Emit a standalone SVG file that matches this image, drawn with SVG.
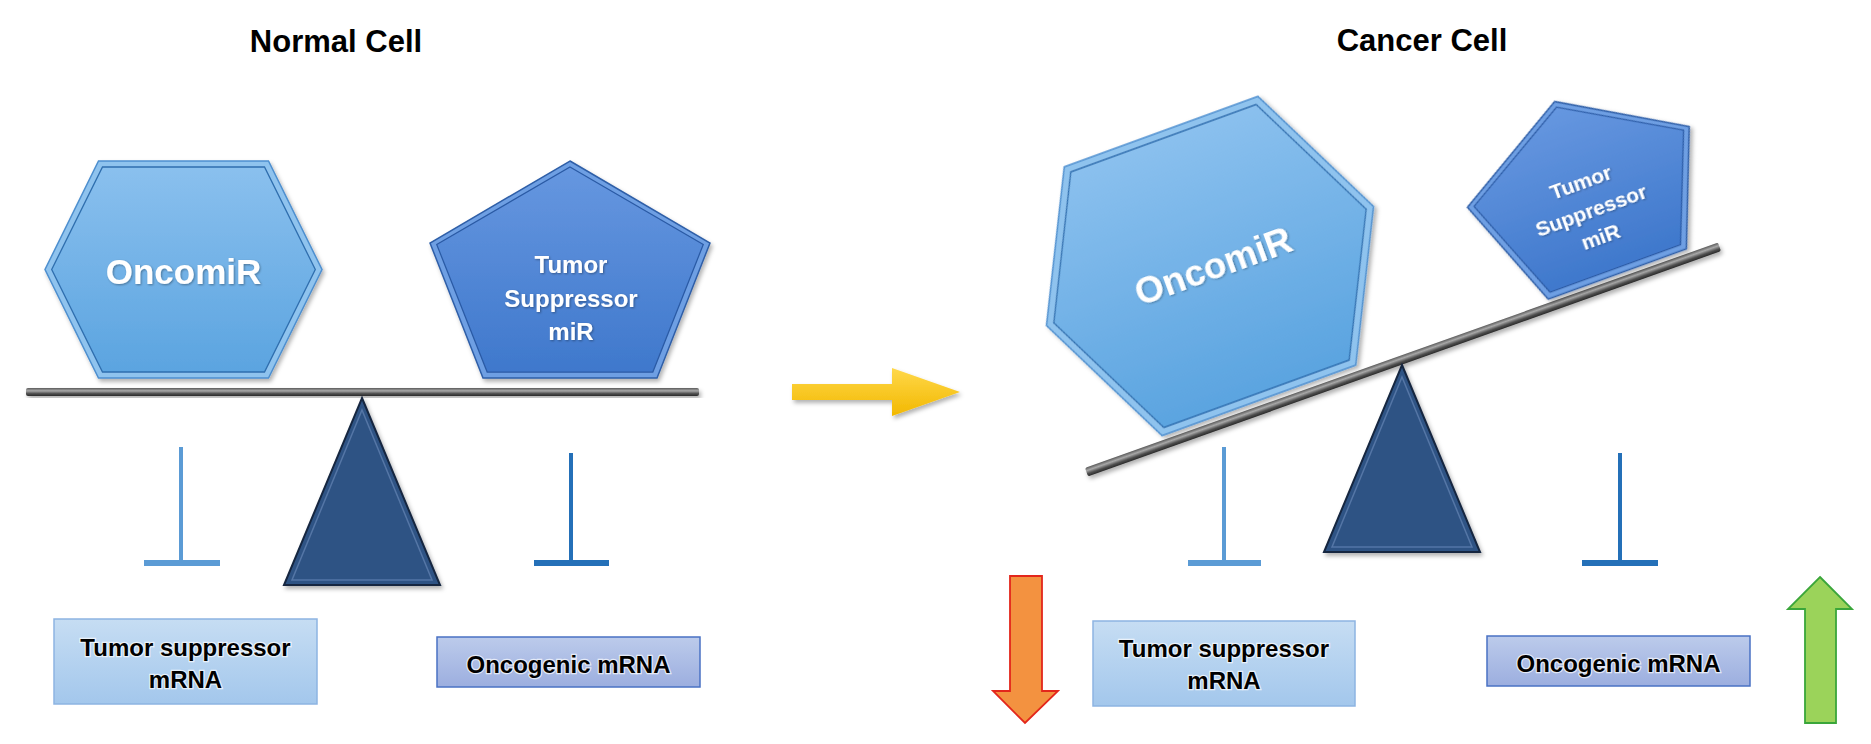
<svg xmlns="http://www.w3.org/2000/svg" width="1871" height="744" viewBox="0 0 1871 744">
<defs>
<style>
.title{font-family:"Liberation Sans",Arial,sans-serif;font-weight:bold;font-size:31px;fill:#000;text-anchor:middle}
.shape-text{font-family:"Liberation Sans",Arial,sans-serif;font-weight:bold;fill:#fff;text-anchor:middle}
.box-text{font-family:"Liberation Sans",Arial,sans-serif;font-weight:bold;font-size:24px;fill:#000;text-anchor:middle;stroke:#fff;stroke-width:2.5;stroke-opacity:0.7;paint-order:stroke}
.hex-rim{fill:#8fc3ee;stroke:#4d8fcf;stroke-width:1.5}
.hex-in{fill:url(#hexGrad);stroke:#2f6eae;stroke-width:1.3}
.pent-rim{fill:#6e9fe3;stroke:#2f5fa8;stroke-width:1.5}
.pent-in{fill:url(#pentGrad);stroke:#2a5aa5;stroke-width:1.3}
.tri{fill:#2f5384;stroke:#142640;stroke-width:2}
.tri-in{fill:none;stroke:#5476a6;stroke-width:1.5}
.ts-box{fill:url(#tsGrad);stroke:#8db4e2;stroke-width:1.5}
.onc-box{fill:url(#oncGrad);stroke:#4a72c4;stroke-width:1.5}
.inhib-light{fill:#5b9bd5}
.inhib-dark{fill:#2470b8}
</style>
<linearGradient id="hexGrad" x1="0" y1="0" x2="0" y2="1">
<stop offset="0" stop-color="#8ac0ee"/><stop offset="1" stop-color="#5ba4e0"/>
</linearGradient>
<linearGradient id="pentGrad" x1="0" y1="0" x2="0" y2="1">
<stop offset="0" stop-color="#6697e0"/><stop offset="1" stop-color="#3f78cc"/>
</linearGradient>
<linearGradient id="beamGrad" x1="0" y1="0" x2="0" y2="1">
<stop offset="0" stop-color="#5a5a5a"/><stop offset="0.35" stop-color="#a8a8a8"/><stop offset="0.7" stop-color="#505050"/><stop offset="1" stop-color="#2a2a2a"/>
</linearGradient>
<linearGradient id="tsGrad" x1="0" y1="0" x2="0" y2="1">
<stop offset="0" stop-color="#c6ddf3"/><stop offset="1" stop-color="#a3c7ec"/>
</linearGradient>
<linearGradient id="oncGrad" x1="0" y1="0" x2="0" y2="1">
<stop offset="0" stop-color="#bccbeb"/><stop offset="1" stop-color="#9caedf"/>
</linearGradient>
<linearGradient id="yelGrad" x1="0" y1="0" x2="0" y2="1">
<stop offset="0" stop-color="#ffd84a"/><stop offset="1" stop-color="#f2b800"/>
</linearGradient>
<filter id="sh" x="-20%" y="-20%" width="140%" height="140%">
<feDropShadow dx="2" dy="3" stdDeviation="2" flood-color="#000" flood-opacity="0.3"/>
</filter>
<filter id="tsh" x="-10%" y="-10%" width="120%" height="120%">
<feDropShadow dx="1" dy="1" stdDeviation="1" flood-color="#000" flood-opacity="0.35"/>
</filter>
</defs>
<rect width="1871" height="744" fill="#fff"/>

<g id="title-normal"><text class="title" x="336" y="52">Normal Cell</text></g>
<g id="title-cancer"><text class="title" x="1422" y="51">Cancer Cell</text></g>

<!-- Normal cell -->
<g id="beam-normal" filter="url(#sh)">
<rect x="26" y="388" width="673" height="8" rx="2" fill="url(#beamGrad)"/>
</g>
<g id="oncomir-normal" transform="translate(183.5,269.5)">
<g filter="url(#sh)">
<polygon class="hex-rim" points="-85,-108.5 85,-108.5 138.5,0 85,108.5 -85,108.5 -138.5,0"/>
<polygon class="hex-in" points="-81,-102.5 81,-102.5 131.8,0 81,102.5 -81,102.5 -131.8,0"/>
</g>
<text class="shape-text" x="0" y="14" font-size="35" filter="url(#tsh)">OncomiR</text>
</g>
<g id="tsmir-normal" transform="translate(570,269.5)">
<g filter="url(#sh)">
<polygon class="pent-rim" points="0,-108.5 140,-26.5 87,108.5 -87,108.5 -140,-26.5"/>
<polygon class="pent-in" transform="scale(0.952,0.945)" points="0,-108.5 140,-26.5 87,108.5 -87,108.5 -140,-26.5"/>
</g>
<g class="shape-text" font-size="24" filter="url(#tsh)">
<text x="1" y="3.5">Tumor</text>
<text x="1" y="37.5">Suppressor</text>
<text x="1" y="70.5">miR</text>
</g>
</g>
<g id="fulcrum-normal" filter="url(#sh)">
<polygon class="tri" points="362,398 440,585 284,585"/>
<polygon class="tri-in" points="362,410 432,580 292,580"/>
</g>
<g id="box-ts-normal">
<rect class="ts-box" x="54" y="619" width="263" height="85"/>
<text class="box-text" x="185.5" y="656">Tumor suppressor</text>
<text class="box-text" x="185.5" y="688">mRNA</text>
</g>
<g id="box-onc-normal">
<rect class="onc-box" x="437" y="637" width="263" height="50"/>
<text class="box-text" x="568.5" y="673">Oncogenic mRNA</text>
</g>

<!-- Cancer cell -->
<g id="oncomir-cancer" transform="translate(1210,266) rotate(-20)">
<g filter="url(#sh)">
<polygon class="hex-rim" points="-103,-143 103,-143 174,0 103,143 -103,143 -174,0"/>
<polygon class="hex-in" points="-98.6,-136 98.6,-136 166.2,0 98.6,136 -98.6,136 -166.2,0"/>
</g>
<text class="shape-text" x="3" y="14" font-size="37" filter="url(#tsh)">OncomiR</text>
</g>
<g id="beam-cancer" filter="url(#sh)">
<rect x="-336" y="-4.5" width="672" height="9" rx="2" fill="url(#beamGrad)" transform="translate(1403,359.5) rotate(-19.6)"/>
</g>
<g id="tsmir-cancer" transform="translate(1586,188) rotate(-20)">
<g filter="url(#sh)">
<polygon class="pent-rim" points="0,-92 118,-22.5 73.5,91.5 -73.5,91.5 -118,-22.5"/>
<polygon class="pent-in" transform="scale(0.945,0.935)" points="0,-92 118,-22.5 73.5,91.5 -73.5,91.5 -118,-22.5"/>
</g>
<g class="shape-text" font-size="21" filter="url(#tsh)">
<text x="-3" y="-0.5">Tumor</text>
<text x="-3" y="29.5">Suppressor</text>
<text x="-3" y="57.5">miR</text>
</g>
</g>
<g id="fulcrum-cancer" filter="url(#sh)">
<polygon class="tri" points="1402,365 1480,552 1324,552"/>
<polygon class="tri-in" points="1402,377 1472,547 1332,547"/>
</g>
<g id="box-ts-cancer">
<rect class="ts-box" x="1093" y="621" width="262" height="85"/>
<text class="box-text" x="1224" y="657">Tumor suppressor</text>
<text class="box-text" x="1224" y="689">mRNA</text>
</g>
<g id="box-onc-cancer">
<rect class="onc-box" x="1487" y="636" width="263" height="50"/>
<text class="box-text" x="1618.5" y="672">Oncogenic mRNA</text>
</g>
<g id="arrow-down">
<polygon points="1010,576 1042,576 1042,691 1058,691 1025,723 993,691 1010,691" fill="#f39240" stroke="#e3261b" stroke-width="1.8"/>
</g>
<g id="arrow-up">
<polygon points="1820,577 1852,609 1836,609 1836,723 1805,723 1805,609 1788,609" fill="#9bd35a" stroke="#3aa63a" stroke-width="1.8"/>
</g>

<g id="connectors">
<g class="inhib-light">
<rect x="179" y="447" width="4" height="116"/><rect x="144" y="560" width="76" height="6"/>
<rect x="1222" y="447" width="4" height="116"/><rect x="1188" y="560" width="73" height="6"/>
</g>
<g class="inhib-dark">
<rect x="569" y="453" width="4" height="110"/><rect x="534" y="560" width="75" height="6"/>
<rect x="1618" y="453" width="4" height="110"/><rect x="1582" y="560" width="76" height="6"/>
</g>
<polygon id="arrow-transition" filter="url(#sh)" points="792,384 892,384 892,368 960,392 892,416 892,400 792,400" fill="url(#yelGrad)"/>
</g>
</svg>
